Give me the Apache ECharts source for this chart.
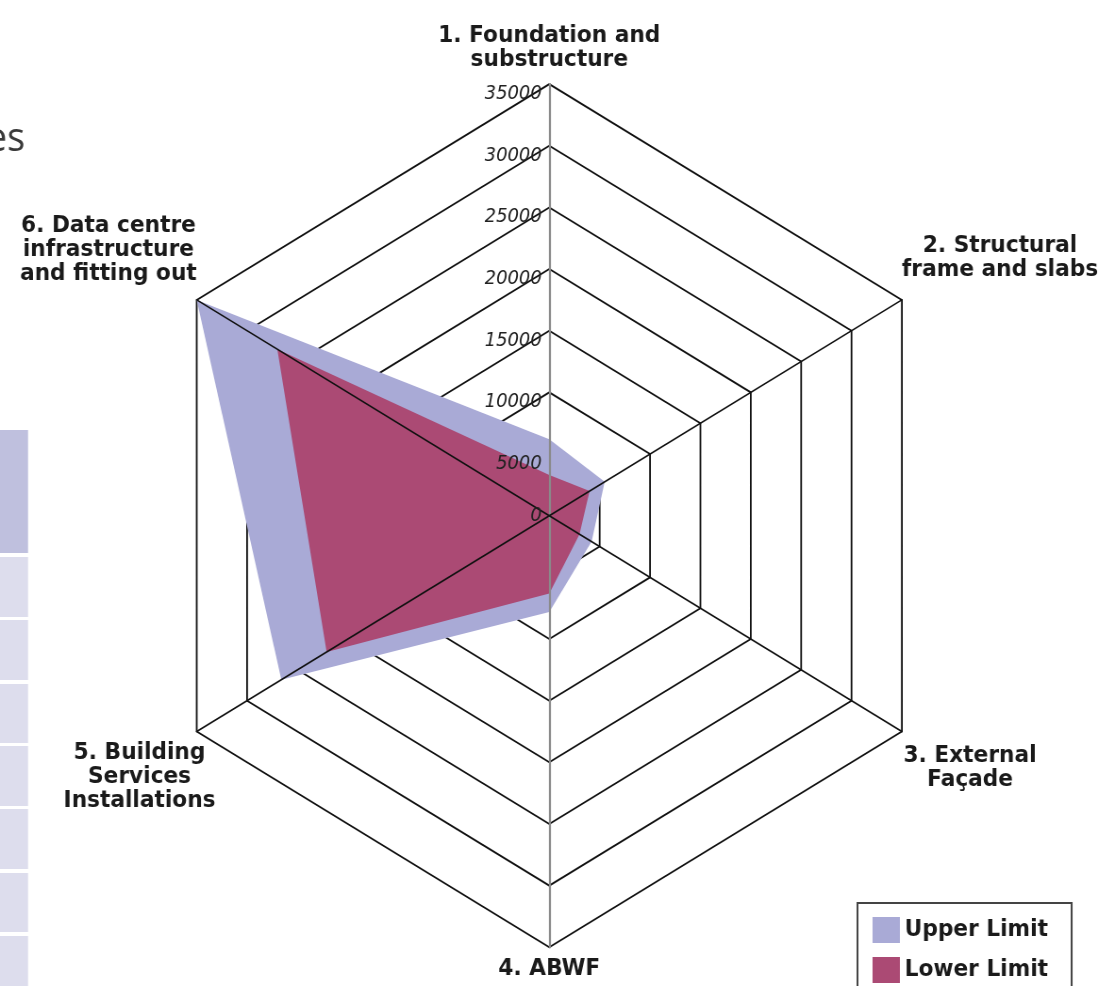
<!DOCTYPE html>
<html><head><meta charset="utf-8">
<script src="https://cdn.jsdelivr.net/npm/echarts@6/dist/echarts.min.js"></script>
<style>
html,body{margin:0;padding:0;background:#fff;overflow:hidden;width:1102px;height:986px;}
#chart{width:1168px;height:986px;transform:scaleX(0.9433);transform-origin:0 0;}
</style></head><body><div id="chart"></div>
<script>
// ---- data (categories in clockwise order from the top) ----
const indicatorNames = [
  '1. Foundation and\nsubstructure',
  '2. Structural\nframe and slabs',
  '3. External\nFaçade',
  '4. ABWF',
  '5. Building\nServices\nInstallations',
  '6. Data centre\ninfrastructure\nand fitting out'
];
const axisMax = 35000;
const axisSplits = 7;
const seriesNames = ['Upper Limit', 'Lower Limit'];
const upperLimit = [6200, 5500, 4200, 7800, 26600, 35000];
const lowerLimit = [3300, 4000, 3000, 6300, 22100, 27000];
const sideText = 'es';

// ---- styling / layout ----
const seriesColors = ['#a9aad6', '#ab4a74'];
const labelFont = {fontFamily: 'DejaVu Sans', fontWeight: 'bold', fontSize: 23, lineHeight: 24, color: '#1a1a1a'};
// per category (clockwise position)
const nameLayout = [
  {nameGap: 12, nameTextStyle: {}},
  {nameGap: 0, nameTextStyle: {align: 'left', verticalAlign: 'bottom', padding: [0, 0, 18, 0]}},
  {nameGap: 2, nameTextStyle: {align: 'left', verticalAlign: 'top', padding: [12, 0, 0, 0]}},
  {nameGap: 10, nameTextStyle: {}},
  {nameGap: 70, nameTextStyle: {align: 'center', verticalAlign: 'middle', padding: [22, 0, 0, 0]}},
  {nameGap: 0, nameTextStyle: {align: 'right', verticalAlign: 'bottom', padding: [0, 0, 14, 0]}}
];
const grayAxes = [0, 3];
const center = [582.3, 515.7];
const radius = 431.6;
const tickFont = {fontFamily: 'DejaVu Sans', fontStyle: 'italic', fontSize: 19, color: '#222'};

// ECharts lays radar indicators out counter-clockwise; reorder to get a clockwise layout
const order = [0, 5, 4, 3, 2, 1];
const reorder = arr => order.map(i => arr[i]);

function baseIndicators() {
  return order.map(i => ({name: indicatorNames[i], min: 0, max: axisMax}));
}

const ringIndicators = baseIndicators();
const topIndicators = baseIndicators().map((ind, k) => {
  const i = order[k];
  const o = Object.assign(ind, {nameGap: nameLayout[i].nameGap, nameTextStyle: nameLayout[i].nameTextStyle});
  if (grayAxes.includes(i)) o.axisLine = {lineStyle: {color: '#8a8a8a', width: 2.2}};
  if (i === 0) {
    o.axisLabel = {
      show: true, margin: 8,
      formatter: v => v === 0 ? '{z|0}' : '{a|' + v + '}',
      rich: {
        a: Object.assign({padding: [20, 0, 0, 0]}, tickFont),
        z: Object.assign({}, tickFont)
      }
    };
  }
  return o;
});

const chart = echarts.init(document.getElementById('chart'));
chart.setOption({
  animation: false,
  backgroundColor: '#fff',
  graphic: [
    {type: 'text', z: 0, style: {text: sideText, x: 26.5, y: 139.5, align: 'right', verticalAlign: 'middle', font: '40px "Open Sans"', fill: '#3a3a3a'}},
    {type: 'rect', z: 0, shape: {x: 0, y: 430, width: 29.7, height: 123}, style: {fill: '#bfc0de'}},
    {type: 'rect', z: 0, shape: {x: 0, y: 557, width: 29.7, height: 60}, style: {fill: '#dddded'}},
    {type: 'rect', z: 0, shape: {x: 0, y: 620, width: 29.7, height: 60}, style: {fill: '#dddded'}},
    {type: 'rect', z: 0, shape: {x: 0, y: 684, width: 29.7, height: 59}, style: {fill: '#dddded'}},
    {type: 'rect', z: 0, shape: {x: 0, y: 746, width: 29.7, height: 60}, style: {fill: '#dddded'}},
    {type: 'rect', z: 0, shape: {x: 0, y: 809, width: 29.7, height: 60}, style: {fill: '#dddded'}},
    {type: 'rect', z: 0, shape: {x: 0, y: 873, width: 29.7, height: 59}, style: {fill: '#dddded'}},
    {type: 'rect', z: 0, shape: {x: 0, y: 936, width: 29.7, height: 60}, style: {fill: '#dddded'}}
  ],
  legend: {
    orient: 'vertical', left: 909, top: 903, width: 190, height: 100,
    padding: [14, 25, 14, 16],
    itemWidth: 29, itemHeight: 26, itemGap: 14,
    icon: 'rect',
    borderColor: '#444', borderWidth: 2,
    textStyle: {fontFamily: 'DejaVu Sans', fontWeight: 'bold', fontSize: 23, color: '#1a1a1a'},
    data: seriesNames
  },
  radar: [
    {
      z: 1,
      center: center, radius: radius, shape: 'polygon',
      splitNumber: axisSplits,
      indicator: ringIndicators,
      axisName: {show: false},
      axisLine: {show: false},
      axisLabel: {show: false},
      splitLine: {show: true, lineStyle: {color: '#111', width: 1.8}},
      splitArea: {show: false}
    },
    {
      z: 5,
      center: center, radius: radius, shape: 'polygon',
      splitNumber: axisSplits,
      indicator: topIndicators,
      axisName: Object.assign({
        formatter: n => n.split('\n').map(l => '{c|' + l + '}').join('\n'),
        rich: {c: Object.assign({align: 'center'}, labelFont)}
      }, labelFont),
      axisLine: {show: true, lineStyle: {color: '#111', width: 1.6}},
      axisLabel: {show: false},
      splitLine: {show: false},
      splitArea: {show: false}
    }
  ],
  series: [{
    type: 'radar', radarIndex: 0, z: 2, symbol: 'none',
    data: [
      {name: seriesNames[0], value: reorder(upperLimit), itemStyle: {color: seriesColors[0]},
       lineStyle: {width: 0, opacity: 0}, areaStyle: {color: seriesColors[0], opacity: 1}},
      {name: seriesNames[1], value: reorder(lowerLimit), itemStyle: {color: seriesColors[1]},
       lineStyle: {width: 0, opacity: 0}, areaStyle: {color: seriesColors[1], opacity: 1}}
    ]
  }]
});
</script></body></html>
